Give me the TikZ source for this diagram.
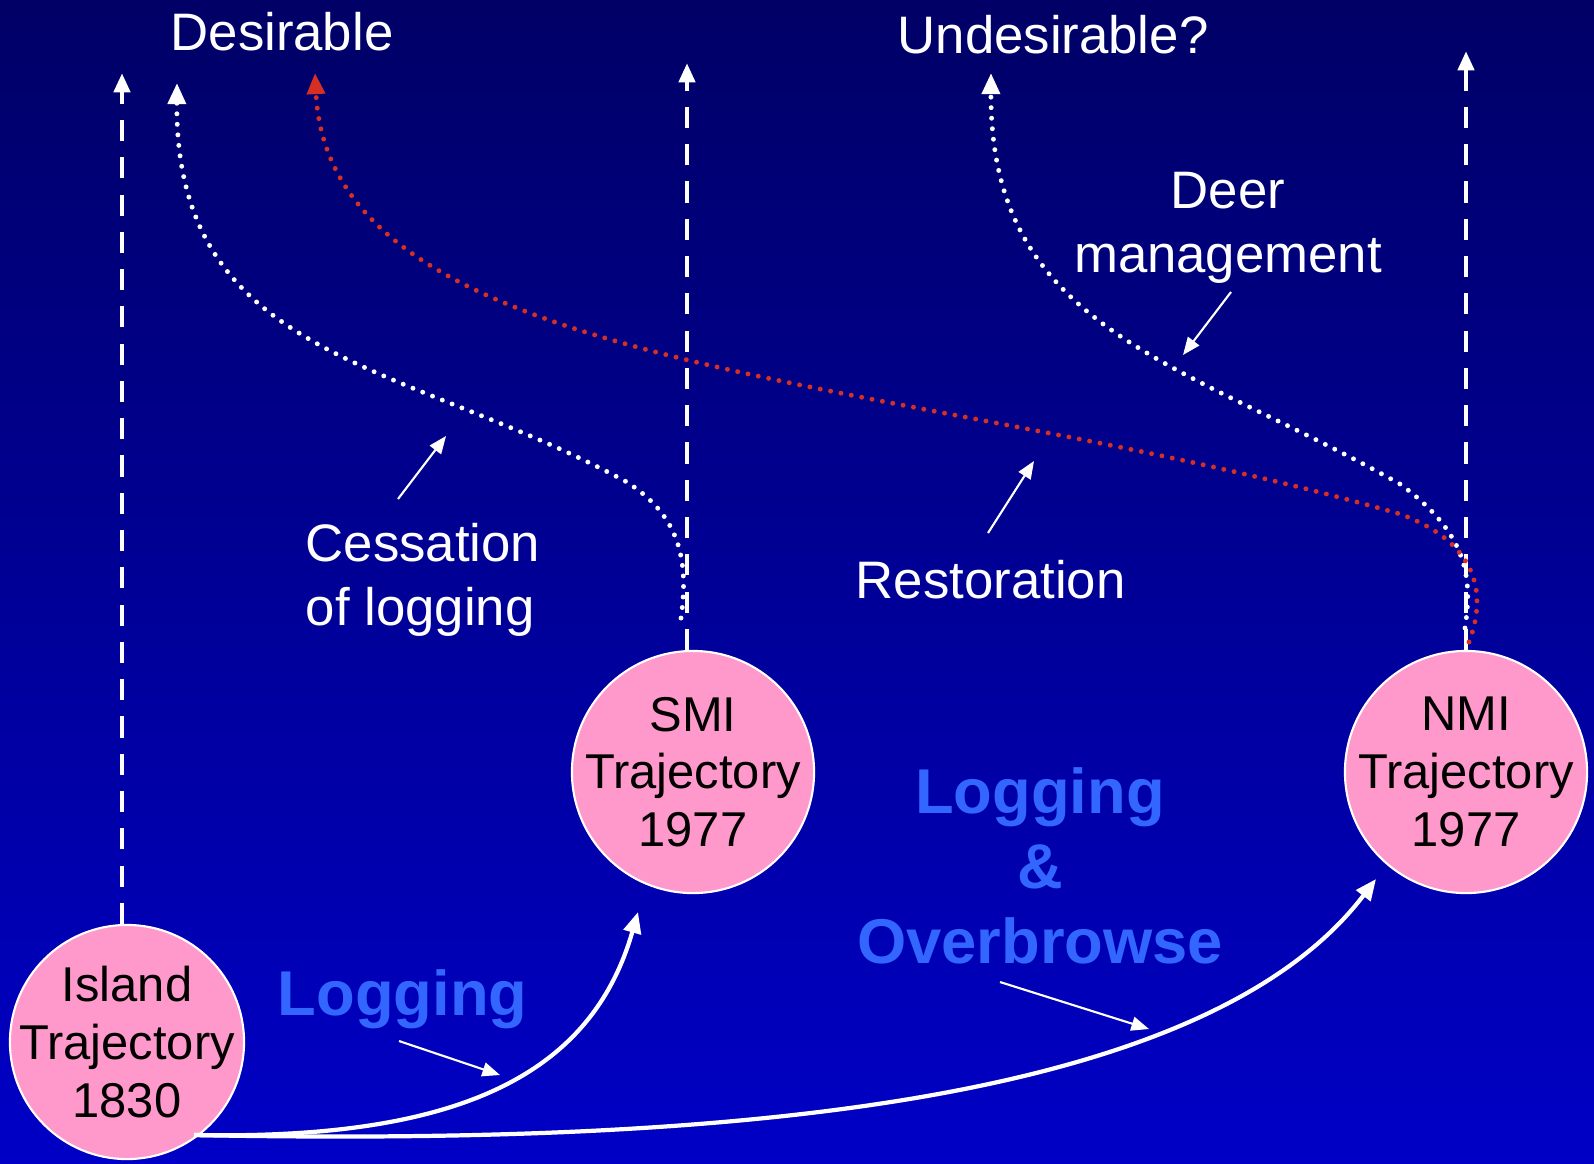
\documentclass[tikz,border=0pt]{standalone}
\usepackage{fontspec}
\setmainfont{Liberation Sans}
\usetikzlibrary{arrows.meta}
\definecolor{bgtop}{RGB}{0,0,102}
\definecolor{bgbot}{RGB}{0,0,198}
\definecolor{trajpink}{RGB}{255,153,204}
\definecolor{actblue}{RGB}{51,102,255}
\definecolor{dotred}{RGB}{214,48,36}

\tikzset{
  traj/.style={circle,draw=white,line width=0.6pt,fill=trajpink,inner sep=-0.25cm,
    minimum size=2.42cm,align=center,text=black,font=\fontsize{13.9pt}{16.4pt}\selectfont},
  lbl/.style={text=white,inner sep=0pt,font=\fontsize{15pt}{18.2pt}\selectfont},
  act/.style={text=actblue,inner sep=0pt,font=\fontsize{18pt}{21.3pt}\selectfont\bfseries},
  path up/.style={draw=white,line width=1.4pt,dash pattern=on 6pt off 4.6pt,
    -{Triangle[width=4.5pt,length=5.5pt]}},
  shift dots/.style={line width=1.4pt,line cap=round,dash pattern=on 0pt off 3pt,
    -{Triangle[width=5pt,length=6pt]}},
  change/.style={draw=white,line width=1.2pt,-{Triangle[width=5pt,length=6pt]}},
  pointer/.style={draw=white,line width=0.6pt,-{Triangle[width=4pt,length=5pt]}},
}

\begin{document}
\begin{tikzpicture}[x=0.01cm,y=-0.01cm]
    \useasboundingbox (0,0) rectangle (1594,1163);
    \shade[top color=bgtop,bottom color=bgbot] (0,0) rectangle (1594,1163);

    \node[traj,minimum size=2.34cm] (isl) at (127,1042) {Island\\Trajectory\\1830};
    \node[traj] (smi) at (693,772) {SMI\\Trajectory\\1977};
    \node[traj] (nmi) at (1466,772) {NMI\\Trajectory\\1977};

    \node[lbl,anchor=base] (desir) at (282,50) {Desirable};
    \node[lbl,anchor=base] (undesir) at (1053,53) {Undesirable?};
    \node[lbl,anchor=north,align=center] (deer) at (1228,171) {Deer\\management};
    \node[lbl,anchor=north west,align=left] (cess) at (305,523) {Cessation\\of logging};
    \node[lbl,anchor=base west] (rest) at (855,598) {Restoration};
    \node[act,anchor=base west] (log) at (277,1015) {Logging};
    \node[act,anchor=north,align=center] (logob) at (1040,767) {Logging\\\&\\Overbrowse};

    \coordinate (isl up) at (122,73);
    \coordinate (smi up) at (687,63);
    \coordinate (nmi up) at (1466,51);
    \coordinate (smi foot) at (681,618);
    \coordinate (nmi foot) at (1465,628);
    \coordinate (red foot) at (1469,642);
    \coordinate (desir a) at (177,83);
    \coordinate (desir b) at (315,73);
    \coordinate (undesir a) at (991,73);
    \coordinate (isl foot) at (194,1135);
    \coordinate (smi tip) at (638,912);
    \coordinate (nmi tip) at (1376,879);

    \draw[path up] (isl.north -| isl up) -- (isl up);
    \draw[path up] (smi.north -| smi up) -- (smi up);
    \draw[path up] (nmi.north) -- (nmi up);

    \draw[shift dots,draw=white] (smi foot) .. controls (689,560) and (680,515) .. (625,481)
        .. controls (400,360) and (175,360) .. (desir a);
    \draw[shift dots,draw=white] (nmi foot) .. controls (1472,580) and (1470,535) .. (1400,484)
        .. controls (1180,360) and (990,330) .. (undesir a);
    \draw[shift dots,draw=dotred] (red foot) .. controls (1485,600) and (1484,545) .. (1400,514)
        .. controls (900,370) and (330,380) .. (desir b);

    \draw[change] (isl foot) .. controls (450,1140) and (590,1080) .. (smi tip);
    \draw[change] (isl foot) .. controls (700,1145) and (1200,1110) .. (nmi tip);

    \coordinate (cess a) at (398,499);
    \coordinate (cess b) at (446,436);
    \coordinate (rest a) at (988,533);
    \coordinate (rest b) at (1034,461);
    \coordinate (deer a) at (1231,292);
    \coordinate (deer b) at (1183,355);
    \coordinate (log a) at (399,1041);
    \coordinate (log b) at (500,1075);
    \coordinate (logob a) at (1000,982);
    \coordinate (logob b) at (1149,1029);
    \draw[pointer] (cess a) -- (cess b);
    \draw[pointer] (rest a) -- (rest b);
    \draw[pointer] (deer a) -- (deer b);
    \draw[pointer] (log a) -- (log b);
    \draw[pointer] (logob a) -- (logob b);
\end{tikzpicture}
\end{document}
